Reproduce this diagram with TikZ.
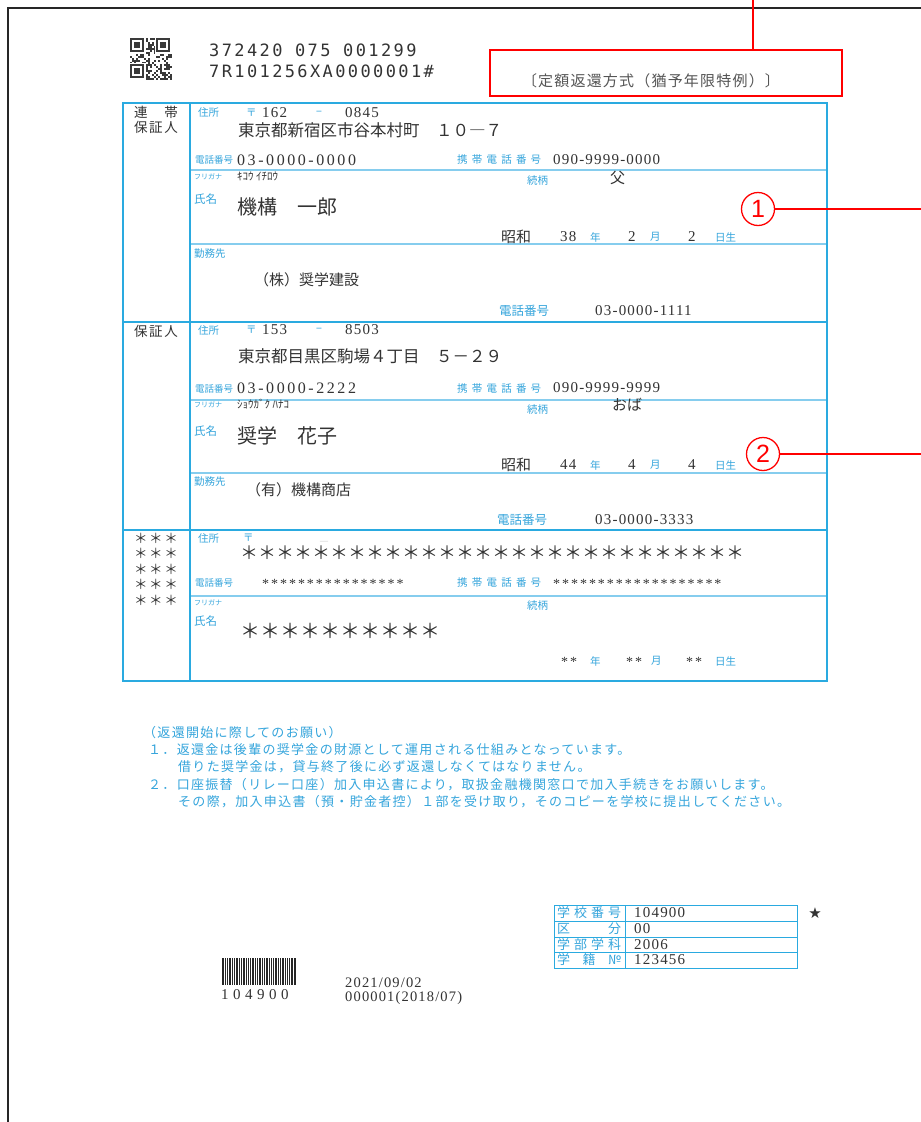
\documentclass[tikz,border=0pt]{standalone}
\usepackage{fontspec}
\setmainfont{Liberation Serif}
\newfontfamily\jp{Noto Sans CJK JP}
\newfontfamily\notefont[LetterSpace=10]{Noto Sans CJK JP}
\newfontfamily\boxfont[LetterSpace=8]{Noto Sans CJK JP}
\newfontfamily\ocrfont[LetterSpace=14]{DejaVu Sans Mono}
\newfontfamily\numfont[LetterSpace=16]{Liberation Serif}
\newfontfamily\numcfont[LetterSpace=8]{Liberation Serif}
\newfontfamily\astfont[LetterSpace=14]{Liberation Serif}
\newfontfamily\bcfont[LetterSpace=30]{Liberation Serif}
\newfontfamily\datefont[LetterSpace=8]{Liberation Serif}
\newfontfamily\sansf{Liberation Sans}
\newfontfamily\dejavu{DejaVu Sans}
\definecolor{tblue}{HTML}{2AAAE0}
\definecolor{thinb}{HTML}{86CDEE}
\definecolor{lblue}{HTML}{35A5DC}
\definecolor{ink}{HTML}{333333}
\definecolor{rd}{HTML}{FF0000}
\definecolor{gtext}{HTML}{555555}
\definecolor{qrc}{HTML}{3A3A3A}
\tikzset{
 pageframe/.style={draw=black!85, line width=1.6},
 tbl/.style={draw=tblue, line width=2.6},
 thinl/.style={draw=thinb, line width=1.2},
 smallt/.style={draw=tblue, line width=0.8},
 redl/.style={draw=rd, line width=1.4},
 redbox/.style={draw=rd, line width=1.6, minimum width=352, minimum height=46, inner sep=0},
 circ/.style={circle, draw=rd, line width=1.3, minimum size=33, inner sep=0, text=rd, font=\sansf\fontsize{25}{25}\selectfont},
 lab/.style={anchor=west, inner sep=0, text=lblue, font=\jp\fontsize{10.5}{10.5}\selectfont},
 labt/.style={lab, font=\jp\fontsize{9.5}{9.5}\selectfont},
 labm/.style={lab, font=\jp\fontsize{12.5}{12.5}\selectfont},
 labs/.style={lab, font=\jp\fontsize{11.5}{11.5}\selectfont},
 tinyl/.style={lab, font=\jp\fontsize{7}{7}\selectfont},
 num/.style={anchor=west, inner sep=0, text=ink, font=\numfont\fontsize{16}{16}\selectfont},
 numc/.style={num, font=\numcfont\fontsize{15}{15}\selectfont},
 astr/.style={num, font=\astfont\fontsize{14}{14}\selectfont},
 jv/.style={anchor=west, inner sep=0, text=ink, font=\jp\fontsize{16.5}{16.5}\selectfont},
 jvm/.style={jv, font=\jp\fontsize{15}{15}\selectfont},
 jvl/.style={jv, font=\jp\fontsize{20}{20}\selectfont},
 kana/.style={jv, font=\jp\fontsize{11}{11}\selectfont},
 headtext/.style={inner sep=0, text=ink, font=\jp\fontsize{13.5}{13.5}\selectfont},
 notetext/.style={anchor=west, inner sep=0, text=lblue, font=\notefont\fontsize{13}{13}\selectfont},
 ocr/.style={anchor=west, inner sep=0, text=black!80, font=\ocrfont\fontsize{17}{17}\selectfont},
 tlab/.style={anchor=west, inner sep=0, text=lblue, font=\jp\fontsize{13}{13}\selectfont},
 tval/.style={anchor=west, inner sep=0, text=ink, font=\numcfont\fontsize{15}{15}\selectfont},
}
\newcommand{\ktel}{\makebox[84pt]{携\hfill 帯\hfill 電\hfill 話\hfill 番\hfill 号}}
\begin{document}
\begin{tikzpicture}[x=1pt,y=-1pt]
\useasboundingbox (0,0) rectangle (921,1122);
\fill[white] (0,0) rectangle (921,1122);
% page frame
\draw[pageframe] (921,8) -- (8,8) -- (8,1122);

% QR code
\pgfmathsetseed{12}
\foreach \i in {0,...,20}{\foreach \j in {0,...,20}{%
  \pgfmathparse{rnd}\ifdim\pgfmathresult pt>0.52pt \fill[qrc] (130+2*\i,38+2*\j) rectangle ++(2,2);\fi}}
\foreach \fx/\fy in {130/38,156/38,130/64}{
  \fill[white] (\fx-1,\fy-1) rectangle ++(17,17);
  \fill[qrc] (\fx,\fy) rectangle ++(14,14);
  \fill[white] (\fx+2,\fy+2) rectangle ++(10,10);
  \fill[qrc] (\fx+4,\fy+4) rectangle ++(6,6);
}

% top codes
\node[ocr] (code1) at (209,50) {372420 075 001299};
\node[ocr] (code2) at (209,71) {7R101256XA0000001\#};

% red box
\node[redbox] (rb) at (666,73) {};
\node[inner sep=0, text=gtext, font=\boxfont\fontsize{15}{15}\selectfont] (rbt) at (651,81) {〔定額返還方式（猶予年限特例）〕};
\coordinate (rtop) at (753,0);
\draw[redl] (rtop) -- (rtop |- rb.north);

% main table
\draw[thinl] (190,170) -- (827,170);
\draw[thinl] (190,244) -- (827,244);
\draw[thinl] (190,400) -- (827,400);
\draw[thinl] (190,473) -- (827,473);
\draw[thinl] (190,596) -- (827,596);
\draw[tbl] (123,103) rectangle (827,681);
\draw[tbl] (190,103) -- (190,681);
\draw[tbl] (123,322) -- (827,322);
\draw[tbl] (123,530) -- (827,530);

% left column
\node[headtext] (h1a) at (156,112) {\makebox[44pt]{連\hfill 帯}};
\node[headtext] (h1b) at (156,127) {\makebox[44pt]{保\hfill 証\hfill 人}};
\node[headtext] (h2) at (156,331) {\makebox[44pt]{保\hfill 証\hfill 人}};
\foreach \k/\yy in {1/538,2/553.5,3/569,4/584.5,5/600}{
  \node[headtext] (st\k) at (156,\yy) {\makebox[44pt]{＊\hfill ＊\hfill ＊}};
}

% ---- section 1
\node[lab] (a1) at (198,113) {住所};
\node[lab] (a2) at (246,113) {〒};
\node[numc] (a3) at (262,113) {162};
\node[lab] (a4) at (316,113) {−};
\node[numc] (a5) at (345,113) {0845};
\node[jv] (a6) at (238,130) {東京都新宿区市谷本村町　１０―７};
\node[labt] (a7) at (195,160) {電話番号};
\node[num] (a8) at (237,160) {03-0000-0000};
\node[lab] (a9) at (457,160) {\ktel};
\node[numc] (a10) at (553,160) {090-9999-0000};
\node[tinyl] (a11) at (194,177) {フリガナ};
\node[kana] (a12) at (237,176) {ｷｺｳ ｲﾁﾛｳ};
\node[lab] (a13) at (527,181) {続柄};
\node[jvm] (a14) at (610,178) {父};
\node[labs] (a15) at (194,199) {氏名};
\node[jvl] (a16) at (237,207) {機構　一郎};
\node[jvm] (a17) at (501,237) {昭和};
\node[numc] (a18) at (560,237) {38};
\node[lab] (a19) at (590,237) {年};
\node[numc] (a20) at (628,237) {2};
\node[lab] (a21) at (650,237) {月};
\node[numc] (a22) at (688,237) {2};
\node[lab] (a23) at (715,237) {日生};
\node[lab] (a24) at (194,254) {勤務先};
\node[jvm] (a25) at (254,280) {（株）奨学建設};
\node[labm] (a26) at (499,311) {電話番号};
\node[numc] (a27) at (595,311) {03-0000-1111};
\node[circ] (c1) at (758,209) {1};
\coordinate (e1) at (921,209);
\draw[redl] (c1) -- (e1);

% ---- section 2
\node[lab] (b1) at (198,330) {住所};
\node[lab] (b2) at (246,330) {〒};
\node[numc] (b3) at (262,330) {153};
\node[lab] (b4) at (316,330) {−};
\node[numc] (b5) at (345,330) {8503};
\node[jv] (b6) at (238,356) {東京都目黒区駒場４丁目　５－２９};
\node[labt] (b7) at (195,389) {電話番号};
\node[num] (b8) at (237,388) {03-0000-2222};
\node[lab] (b9) at (457,389) {\ktel};
\node[numc] (b10) at (553,388) {090-9999-9999};
\node[tinyl] (b11) at (194,405) {フリガナ};
\node[kana] (b12) at (237,404) {ｼｮｳｶﾞｸ ﾊﾅｺ};
\node[lab] (b13) at (527,410) {続柄};
\node[jvm] (b14) at (612,405) {おば};
\node[labs] (b15) at (194,431) {氏名};
\node[jvl] (b16) at (237,436) {奨学　花子};
\node[jvm] (b17) at (501,465) {昭和};
\node[numc] (b18) at (560,465) {44};
\node[lab] (b19) at (590,465) {年};
\node[numc] (b20) at (628,465) {4};
\node[lab] (b21) at (650,465) {月};
\node[numc] (b22) at (688,465) {4};
\node[lab] (b23) at (715,465) {日生};
\node[lab] (b24) at (194,482) {勤務先};
\node[jvm] (b25) at (246,490) {（有）機構商店};
\node[labm] (b26) at (497,520) {電話番号};
\node[numc] (b27) at (595,520) {03-0000-3333};
\node[circ] (c2) at (763,454) {2};
\coordinate (e2) at (921,454);
\draw[redl] (c2) -- (e2);

% ---- section 3
\node[lab] (d1) at (198,538) {住所};
\node[lab] (d2) at (243,538) {〒};
\node[inner sep=0, text=black!25, font=\fontsize{8}{8}\selectfont] (d3) at (324,542) {—};
\node[jv, font=\jp\fontsize{18}{18}\selectfont] (d4) at (240,553) {＊＊＊＊＊＊＊＊＊＊＊＊＊＊＊＊＊＊＊＊＊＊＊＊＊＊＊＊};
\node[labt] (d5) at (195,583) {電話番号};
\node[astr] (d6) at (262,584) {****************};
\node[lab] (d7) at (457,583) {\ktel};
\node[astr] (d8) at (553,584) {*******************};
\node[tinyl] (d9) at (194,603) {フリガナ};
\node[lab] (d10) at (527,606) {続柄};
\node[labs] (d11) at (194,621) {氏名};
\node[jvl] (d12) at (240,631) {＊＊＊＊＊＊＊＊＊＊};
\node[astr] (d13) at (561,662) {**};
\node[lab] (d14) at (590,661) {年};
\node[astr] (d15) at (626,662) {**};
\node[lab] (d16) at (651,661) {月};
\node[astr] (d17) at (686,662) {**};
\node[lab] (d18) at (715,661) {日生};

% notes
\node[notetext] (n0) at (143,733) {（返還開始に際してのお願い）};
\node[notetext] (n1) at (148,750) {１．返還金は後輩の奨学金の財源として運用される仕組みとなっています。};
\node[notetext] (n2) at (178,767) {借りた奨学金は，貸与終了後に必ず返還しなくてはなりません。};
\node[notetext] (n3) at (148,785) {２．口座振替（リレー口座）加入申込書により，取扱金融機関窓口で加入手続きをお願いします。};
\node[notetext] (n4) at (178,802) {その際，加入申込書（預・貯金者控）１部を受け取り，そのコピーを学校に提出してください。};

% small table
\draw[smallt] (554,905) rectangle (797,968);
\draw[smallt] (625,905) -- (625,968);
\draw[smallt] (554,921) -- (797,921);
\draw[smallt] (554,937) -- (797,937);
\draw[smallt] (554,952.5) -- (797,952.5);
\node[tlab] (t1) at (557,913) {\makebox[64pt]{学\hfill 校\hfill 番\hfill 号}};
\node[tlab] (t2) at (557,929) {\makebox[64pt]{区\hfill 分}};
\node[tlab] (t3) at (557,945) {\makebox[64pt]{学\hfill 部\hfill 学\hfill 科}};
\node[tlab] (t4) at (557,960) {\makebox[64pt]{学\hfill 籍\hfill №}};
\node[tval] (v1) at (634,913) {104900};
\node[tval] (v2) at (634,929) {00};
\node[tval] (v3) at (634,945) {2006};
\node[tval] (v4) at (634,960) {123456};
\node[inner sep=0, font=\dejavu\fontsize{15}{15}\selectfont, text=ink] (star) at (815,913) {★};

% barcode
\foreach \bx/\bw in {222/2,225/1,227/1,229/2,232/1,234/1,236/2,239/1,241/1,243/2,246/1,248/1,250/1,252/2,255/1,257/1,259/2,262/1,264/1,266/2,269/1,271/1,273/1,275/2,278/1,280/1,282/2,285/1,287/1,289/1,291/2,294/2}{
  \fill[black!85] (\bx,958) rectangle ++(\bw,27);
}
\node[anchor=west, inner sep=0, text=ink, font=\bcfont\fontsize{15}{15}\selectfont] (bcn) at (221,995) {104900};
\node[anchor=west, inner sep=0, text=ink, font=\datefont\fontsize{14.5}{14.5}\selectfont] (dt1) at (345,983) {2021/09/02};
\node[anchor=west, inner sep=0, text=ink, font=\datefont\fontsize{14.5}{14.5}\selectfont] (dt2) at (345,998) {000001(2018/07)};
\end{tikzpicture}
\end{document}
